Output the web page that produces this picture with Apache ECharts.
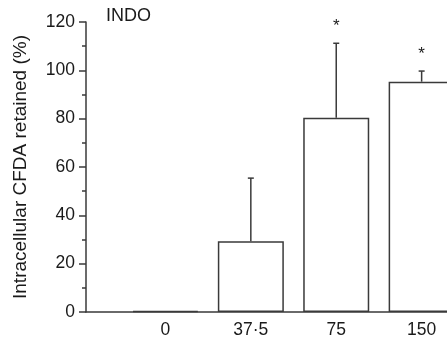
<!DOCTYPE html>
<html>
<head>
<meta charset="utf-8">
<script src="https://cdn.jsdelivr.net/npm/echarts@6/dist/echarts.min.js"></script>
<style>
html,body{margin:0;padding:0;background:#fff;}
#chart{width:447px;height:341px;}
</style>
</head>
<body>
<div id="chart"></div>
<script>
// Data
var categories = ['0', '37\u00b75', '75', '150'];
var meanValues = [0.5, 29.3, 80.4, 95.3];
var errorUpper = [0, 26.1, 30.8, 4.4];
var significance = ['', '', '*', '*'];
var yTicks = [0, 20, 40, 60, 80, 100, 120];
var panelTitle = 'INDO';
var yAxisTitle = 'Intracellular CFDA retained (%)';

var FONT = 'Liberation Sans';
var INK = '#1a1a1a';
var LINE = '#3a3a3a';

var chart = echarts.init(document.getElementById('chart'), null, {renderer: 'canvas'});

var catIndex = categories.map(function (c, i) { return i; });
var barData = meanValues.map(function (m, i) { return [catIndex[i], m]; });
var errData = meanValues.map(function (m, i) {
  return [catIndex[i], m, m + errorUpper[i]];
});

var option = {
  animation: false,
  backgroundColor: '#fff',
  title: {
    text: panelTitle,
    left: 106, top: 7, padding: 0,
    textStyle: {fontFamily: FONT, fontSize: 18, fontWeight: 'normal', color: INK}
  },
  grid: {left: 86, right: 0, top: 22, bottom: 29, containLabel: false},
  xAxis: {
    type: 'value', min: -0.93, max: 3.297,
    axisLine: {show: true, onZero: false, lineStyle: {color: LINE, width: 1.5}},
    axisTick: {show: false},
    splitLine: {show: false},
    axisLabel: {
      customValues: catIndex,
      margin: 9, fontFamily: FONT, fontSize: 17.5, color: INK,
      formatter: function (v) { return categories[Math.round(v)]; }
    }
  },
  yAxis: {
    type: 'value', min: yTicks[0], max: yTicks[yTicks.length - 1], interval: 20,
    name: yAxisTitle, nameLocation: 'middle', nameGap: 56, nameRotate: 90,
    nameTextStyle: {fontFamily: FONT, fontSize: 19, color: INK},
    axisLine: {show: true, onZero: false, lineStyle: {color: LINE, width: 1.5}},
    axisTick: {show: true, inside: false, length: 7, lineStyle: {color: LINE, width: 1.5}},
    minorTick: {show: true, splitNumber: 2, length: 4, lineStyle: {color: LINE, width: 1.5}},
    axisLabel: {margin: 11, fontFamily: FONT, fontSize: 17.5, color: INK},
    splitLine: {show: false}
  },
  series: [
    {
      type: 'bar',
      data: barData, barWidth: 66, clip: false,
      itemStyle: {color: '#fff', borderColor: LINE, borderWidth: 1.5},
      emphasis: {disabled: true}
    },
    {
      type: 'custom', clip: false,
      data: errData,
      renderItem: function (params, api) {
        var x = api.value(0);
        var base = api.coord([x, api.value(1)]);
        var top = api.coord([x, api.value(2)]);
        var children = [];
        if (api.value(2) > api.value(1)) {
          children.push({type: 'line', shape: {x1: base[0], y1: base[1], x2: top[0], y2: top[1]},
            style: {stroke: LINE, lineWidth: 1.5}});
          children.push({type: 'line', shape: {x1: top[0] - 3, y1: top[1], x2: top[0] + 3, y2: top[1]},
            style: {stroke: LINE, lineWidth: 1.5}});
        }
        var star = significance[params.dataIndex];
        if (star) {
          children.push({type: 'text', x: top[0], y: top[1] - 17,
            style: {text: star, fontFamily: FONT, fontSize: 17, fill: INK, align: 'center', verticalAlign: 'middle'}});
        }
        return {type: 'group', children: children};
      }
    }
  ]
};
chart.setOption(option);
</script>
</body>
</html>
